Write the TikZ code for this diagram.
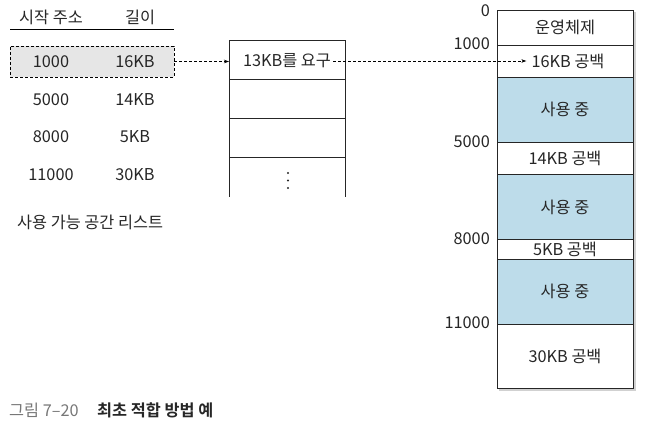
\documentclass[tikz,border=0pt]{standalone}
\usepackage{fontspec}
\setmainfont{Noto Sans CJK KR}
\newfontfamily\cjkbold{Noto Sans CJK KR Bold}
\usetikzlibrary{arrows.meta}
\definecolor{memblue}{HTML}{BDDCEA}
\definecolor{rowgray}{HTML}{E6E6E6}
\definecolor{capgray}{HTML}{777777}
\tikzset{
  txt/.style={font=\fontsize{16.3}{19}\selectfont, inner sep=0pt, text=black!85},
  dasharrow/.style={densely dashed, line width=0.6pt, -{Stealth[length=5pt,width=3.5pt]}},
  boxline/.style={line width=0.8pt, draw=black!85},
  dotmark/.style={circle, fill=black!85, inner sep=0pt, minimum size=2.4pt},
}
\begin{document}
\begin{tikzpicture}[x=1pt,y=-1pt]
\useasboundingbox (0,0) rectangle (645,435);
% --- free list ---
\node[txt] (h1) at (51,17) {시작 주소};
\node[txt] (h2) at (140,17) {길이};
\coordinate (ul1) at (10,29);
\coordinate (ul2) at (174,29);
\draw[line width=0.7pt] (ul1) -- (ul2);
\node[draw, densely dashed, fill=rowgray, line width=0.6pt, minimum width=164pt, minimum height=31pt, inner sep=0pt] (row1) at (92,61.5) {};
\node[txt] (a1) at (51,62) {1000};
\node[txt] (l1) at (135,62) {16KB};
\node[txt] (a2) at (51,100) {5000};
\node[txt] (l2) at (135,100) {14KB};
\node[txt] (a3) at (51,137) {8000};
\node[txt] (l3) at (135,137) {5KB};
\node[txt] (a4) at (51,175) {11000};
\node[txt] (l4) at (135,175) {30KB};
\node[txt, anchor=west] (cap1) at (17,222) {사용 가능 공간 리스트};
% --- request queue ---
\coordinate (q1) at (229,40);
\coordinate (q2) at (345,40);
\coordinate (q3) at (229,197);
\coordinate (q4) at (345,197);
\draw[boxline] (q3) -- (q1) -- (q2) -- (q4);
\draw[boxline] (229,79) -- (345,79);
\draw[boxline] (229,118) -- (345,118);
\draw[boxline] (229,157) -- (345,157);
\node[txt] (req) at (287,61) {13KB를 요구};
\node[dotmark] (d1) at (288,173) {};
\node[dotmark] (d2) at (288,180.5) {};
\node[dotmark] (d3) at (288,188) {};
% --- memory ---
\fill[black!18] (499,12) rectangle (636,391);
\draw[boxline, fill=white] (497,10) rectangle (633,388);
\fill[memblue] (497,77) rectangle (633,142);
\fill[memblue] (497,174) rectangle (633,239);
\fill[memblue] (497,259) rectangle (633,324);
\draw[boxline] (497,10) rectangle (633,388);
\foreach \yy in {45,77,142,174,239,259,324} \draw[boxline] (497,\yy) -- (633,\yy);
\node[txt] (m0) at (565,27) {운영체제};
\node[txt] (m1) at (568,61) {16KB 공백};
\node[txt] (m2) at (565,109) {사용 중};
\node[txt] (m3) at (565,158) {14KB 공백};
\node[txt] (m4) at (565,207) {사용 중};
\node[txt] (m5) at (565,249) {5KB 공백};
\node[txt] (m6) at (565,291) {사용 중};
\node[txt] (m7) at (565,356) {30KB 공백};
\node[txt, anchor=east] (y0) at (490,11) {0};
\node[txt, anchor=east] (y1) at (490,44) {1000};
\node[txt, anchor=east] (y2) at (490,142) {5000};
\node[txt, anchor=east] (y3) at (490,239) {8000};
\node[txt, anchor=east] (y4) at (490,323) {11000};
% --- arrows ---
\draw[dasharrow] (row1.east) -- (q1 |- row1.east);
\draw[dasharrow, shorten <=2pt, shorten >=5pt] (req.east) -- (m1.west);
% --- caption ---
\node[txt, anchor=west, text=capgray] (fig) at (9,410) {그림 7–20};
\node[txt, anchor=west, font=\cjkbold\fontsize{16.3}{19}\selectfont] (figt) at (97,410) {최초 적합 방법 예};
\end{tikzpicture}
\end{document}
